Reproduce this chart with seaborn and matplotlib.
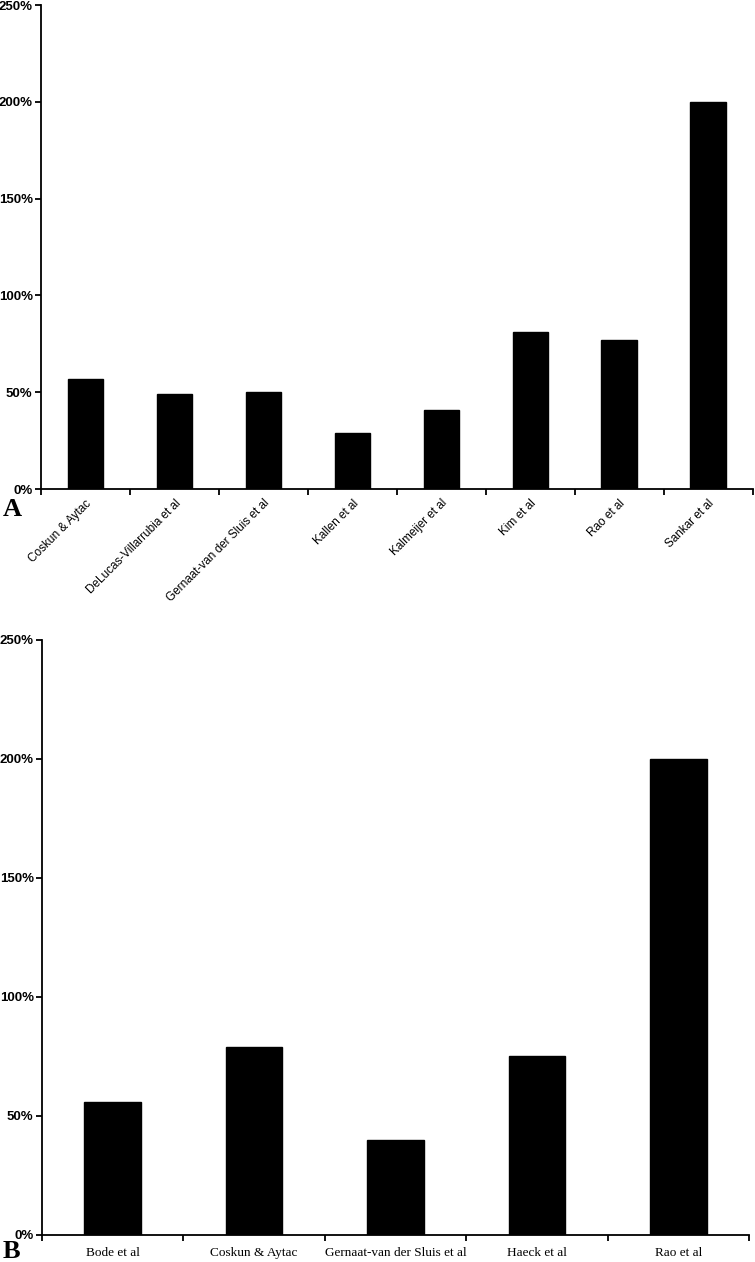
import numpy as np
import pandas as pd
import seaborn as sns
import matplotlib.pyplot as plt
from matplotlib.ticker import PercentFormatter, FixedLocator

# panel A
studies_a = ['Coskun & Aytac', 'DeLucas-Villarrubia et al', 'Gernaat-van der Sluis et al',
             'Kallen et al', 'Kalmeijer et al', 'Kim et al', 'Rao et al', 'Sankar et al']
values_a = [57, 49, 50, 29, 41, 81, 77, 200]

# panel B
studies_b = ['Bode et al', 'Coskun & Aytac', 'Gernaat-van der Sluis et al', 'Haeck et al', 'Rao et al']
values_b = [56, 79, 40, 75, 200]

yticks = [0, 50, 100, 150, 200, 250]

sns.set_style('white')
plt.rcParams['font.family'] = ['Liberation Serif', 'DejaVu Serif']
plt.rcParams['text.color'] = 'black'
plt.rcParams['xtick.color'] = 'black'
plt.rcParams['ytick.color'] = 'black'

fig = plt.figure(figsize=(7.55, 12.62), dpi=100)
ax_a = fig.add_axes([0.0543, 0.6125, 0.9427, 0.3835])
ax_b = fig.add_axes([0.0556, 0.0214, 0.9364, 0.4716])


def draw_panel(ax, names, vals, rotate):
    df = pd.DataFrame({'study': names, 'pct': vals})
    sns.barplot(data=df, x='study', y='pct', color='black', width=0.4,
                saturation=1, ax=ax, edgecolor='black')
    n = len(names)
    ax.set_xlim(-0.5, n - 0.5)
    ax.set_ylim(0, 250)
    ax.set_yticks(yticks)
    ax.yaxis.set_major_formatter(PercentFormatter(decimals=0))
    ax.set_xlabel('')
    ax.set_ylabel('')
    for s in ['top', 'right']:
        ax.spines[s].set_visible(False)
    for s in ['left', 'bottom']:
        ax.spines[s].set_linewidth(1.3)
        ax.spines[s].set_color('black')
    ax.xaxis.set_minor_locator(FixedLocator(np.arange(n + 1) - 0.5))
    ax.tick_params(axis='x', which='major', bottom=False, length=0, pad=6)
    ax.tick_params(axis='x', which='minor', bottom=True, length=4, width=1.3, direction='out')
    ax.tick_params(axis='y', left=True, length=4, width=1.3, direction='out', pad=2)
    for lab in ax.get_yticklabels():
        lab.set_fontsize(9.5)
        lab.set_fontweight('bold')
        lab.set_family(['Liberation Sans', 'DejaVu Sans'])
    if rotate:
        for lab in ax.get_xticklabels():
            lab.set_rotation(45)
            lab.set_ha('right')
            lab.set_rotation_mode('anchor')
            lab.set_fontsize(8.5)
            lab.set_family(['Liberation Sans', 'DejaVu Sans'])
    else:
        ax.tick_params(axis='x', which='major', pad=9)
        for lab in ax.get_xticklabels():
            lab.set_fontsize(9.5)


draw_panel(ax_a, studies_a, values_a, True)
draw_panel(ax_b, studies_b, values_b, False)

fig.text(0.003, 1 - 516 / 1262, 'A', fontsize=19, fontweight='bold', va='baseline')
fig.text(0.003, 1 - 1258 / 1262, 'B', fontsize=19, fontweight='bold', va='baseline')

fig.savefig('out.png', dpi=100)
